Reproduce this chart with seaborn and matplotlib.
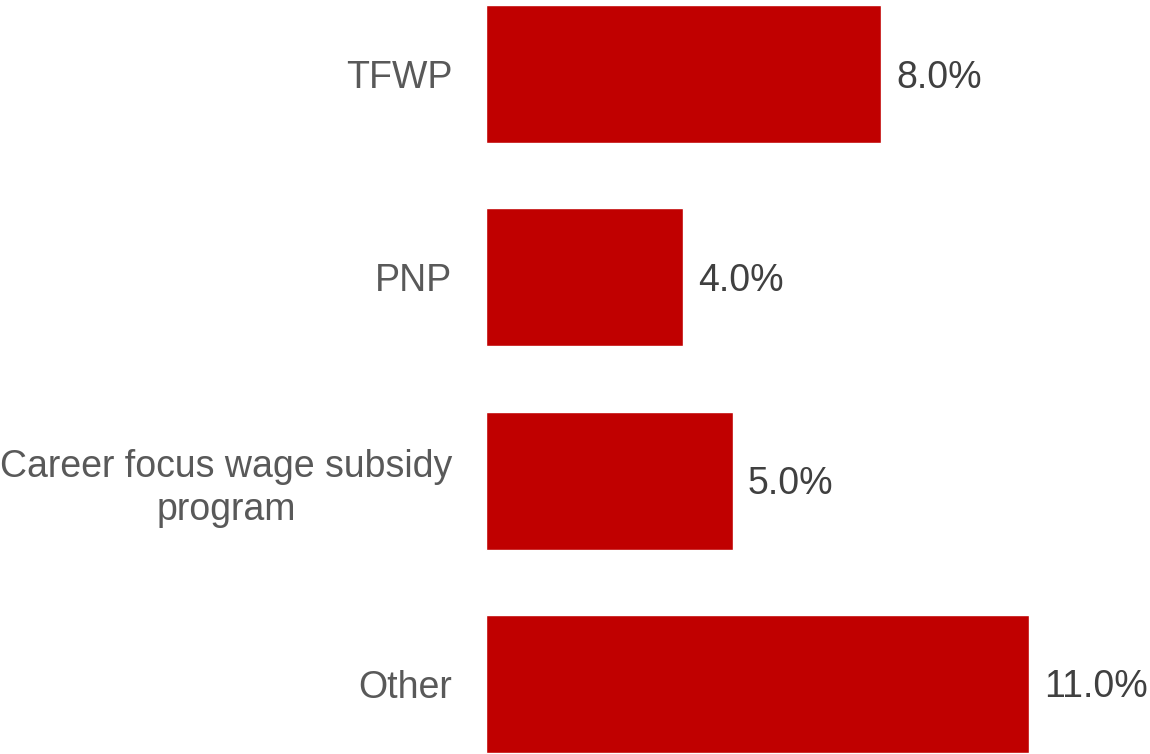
import matplotlib
matplotlib.use("Agg")
import matplotlib.pyplot as plt
import seaborn as sns
import pandas as pd

categories = ["TFWP", "PNP", "Career focus wage subsidy\nprogram", "Other"]
values = [8.0, 4.0, 5.0, 11.0]
value_labels = ["8.0%", "4.0%", "5.0%", "11.0%"]

sns.set_theme(style="white")
plt.rcParams['font.family'] = ['Liberation Sans', 'DejaVu Sans']

df = pd.DataFrame({"cat": categories, "val": values})

fig = plt.figure(figsize=(11.5, 7.54), dpi=100)
ax = fig.add_axes([485.5/1150, 0.0, 593/1150, 1.0])
sns.barplot(data=df, x="val", y="cat", orient="h", color="#C00000",
            saturation=1, width=0.68, ax=ax)
ax.set_xlim(0, 12)
ax.set_ylim(3.345, -0.3645)
ax.set_xlabel("")
ax.set_ylabel("")
ax.set_xticks([])
for s in ax.spines.values():
    s.set_visible(False)
ax.tick_params(axis="y", length=0, pad=24, labelsize=27, labelcolor="#595959")
for lbl in ax.get_yticklabels():
    lbl.set_multialignment("center")
    lbl.set_linespacing(1.25)
for i, (v, t) in enumerate(zip(values, value_labels)):
    ax.annotate(t, xy=(v, i), xytext=(11, -2.5), textcoords="offset points",
                ha="left", va="center", fontsize=27, color="#404040",
                clip_on=False, annotation_clip=False)
fig.savefig("out.png", dpi=100)
